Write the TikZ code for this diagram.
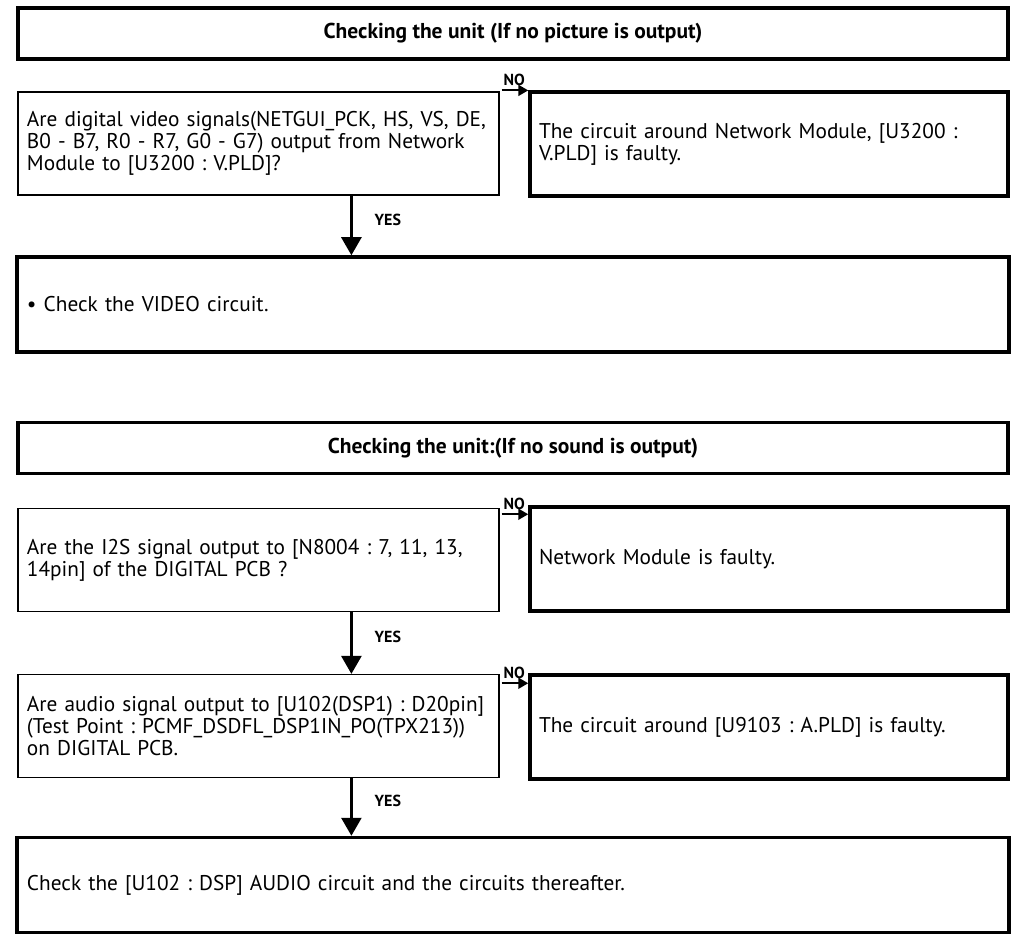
\documentclass[tikz,border=0pt]{standalone}
\usepackage{fontspec}
\setmainfont{PT Sans}
\usepackage{tikz}
\usetikzlibrary{arrows.meta,positioning,calc}
\frenchspacing

\begin{document}
\begin{tikzpicture}[x=1pt, y=-1pt,
  every node/.style={font=\fontsize{21.3}{22}\selectfont},
  hdrbox/.style={draw, line width=3.5pt, minimum width=990pt, minimum height=51pt, font=\fontsize{21.5}{22}\selectfont\bfseries},
  askbox/.style={draw, line width=1.2pt, text width=463pt, inner xsep=9pt, align=left, minimum height=103pt},
  faultbox/.style={draw, line width=3.5pt, text width=460pt, inner xsep=9pt, align=left, minimum height=104pt},
  checkbox/.style={draw, line width=3.5pt, text width=972pt, inner xsep=10pt, align=left, minimum height=95pt},
  yesarrow/.style={-{Triangle[width=20pt,length=18pt]}, line width=2.6pt},
  noarrow/.style={-{Triangle[width=11pt,length=10pt]}, line width=2pt},
  choice/.style={font=\fontsize{16}{17}\selectfont\bfseries, inner sep=1pt}]
\useasboundingbox (0,0) rectangle (1020,936);

% picture check
\node[hdrbox] (hdrA) at (513,33.5) {Checking the unit (If no picture is output)};
\node[askbox] (askA) at (258.5,143.5) {Are digital video signals(NETGUI\_PCK, HS, VS, DE,\\B0 - B7, R0 - R7, G0 - G7) output from Network\\Module to [U3200 : V.PLD]?};
\node[faultbox] (faultA) at (769,144) {The circuit around Network Module, [U3200 :\\V.PLD] is faulty.};
\node[checkbox] (checkA) at (513,304.5) {\textbullet\ Check the VIDEO circuit.};

\coordinate (nA) at ($(askA.north east)+(2,-1)$);
\draw[noarrow] (nA) node[choice, above right, yshift=3pt] (noA) {NO} -- (nA -| faultA.west);
\coordinate (yA) at ($(askA.south west)+(334,0)$);
\draw[yesarrow] (yA) -- node[choice, right=21pt, yshift=6pt] (yesA) {YES} (yA |- checkA.north);

% sound check
\node[hdrbox] (hdrB) at (513,448) {Checking the unit:(If no sound is output)};
\node[askbox] (askB) at (258.5,560) {Are the I2S signal output to [N8004 : 7, 11, 13,\\14pin] of the DIGITAL PCB ?};
\node[faultbox] (faultB) at (769,559) {Network Module is faulty.};
\node[askbox] (askC) at (258.5,726) {Are audio signal output to [U102(DSP1) : D20pin]\\(Test Point : PCMF\_DSDFL\_DSP1IN\_PO(TPX213))\\on DIGITAL PCB.};
\node[faultbox] (faultC) at (769,727) {The circuit around [U9103 : A.PLD] is faulty.};
\node[checkbox] (checkB) at (513,885) {Check the [U102 : DSP] AUDIO circuit and the circuits thereafter.};

\coordinate (nB) at ($(faultB.north west)+(0,9)$);
\draw[noarrow] (nB -| askB.east) ++(2,0) node[choice, above right, yshift=3pt] (noB) {NO} -- (nB);
\coordinate (yB) at ($(askB.south west)+(334,0)$);
\draw[yesarrow] (yB) -- node[choice, right=21pt, yshift=6pt] (yesB) {YES} (yB |- askC.north);

\coordinate (nC) at ($(faultC.north west)+(0,10)$);
\draw[noarrow] (nC -| askC.east) ++(2,0) node[choice, above right, yshift=3pt] (noC) {NO} -- (nC);
\coordinate (yC) at ($(askC.south west)+(334,0)$);
\draw[yesarrow] (yC) -- node[choice, right=21pt, yshift=6pt] (yesC) {YES} (yC |- checkB.north);
\end{tikzpicture}
\end{document}
